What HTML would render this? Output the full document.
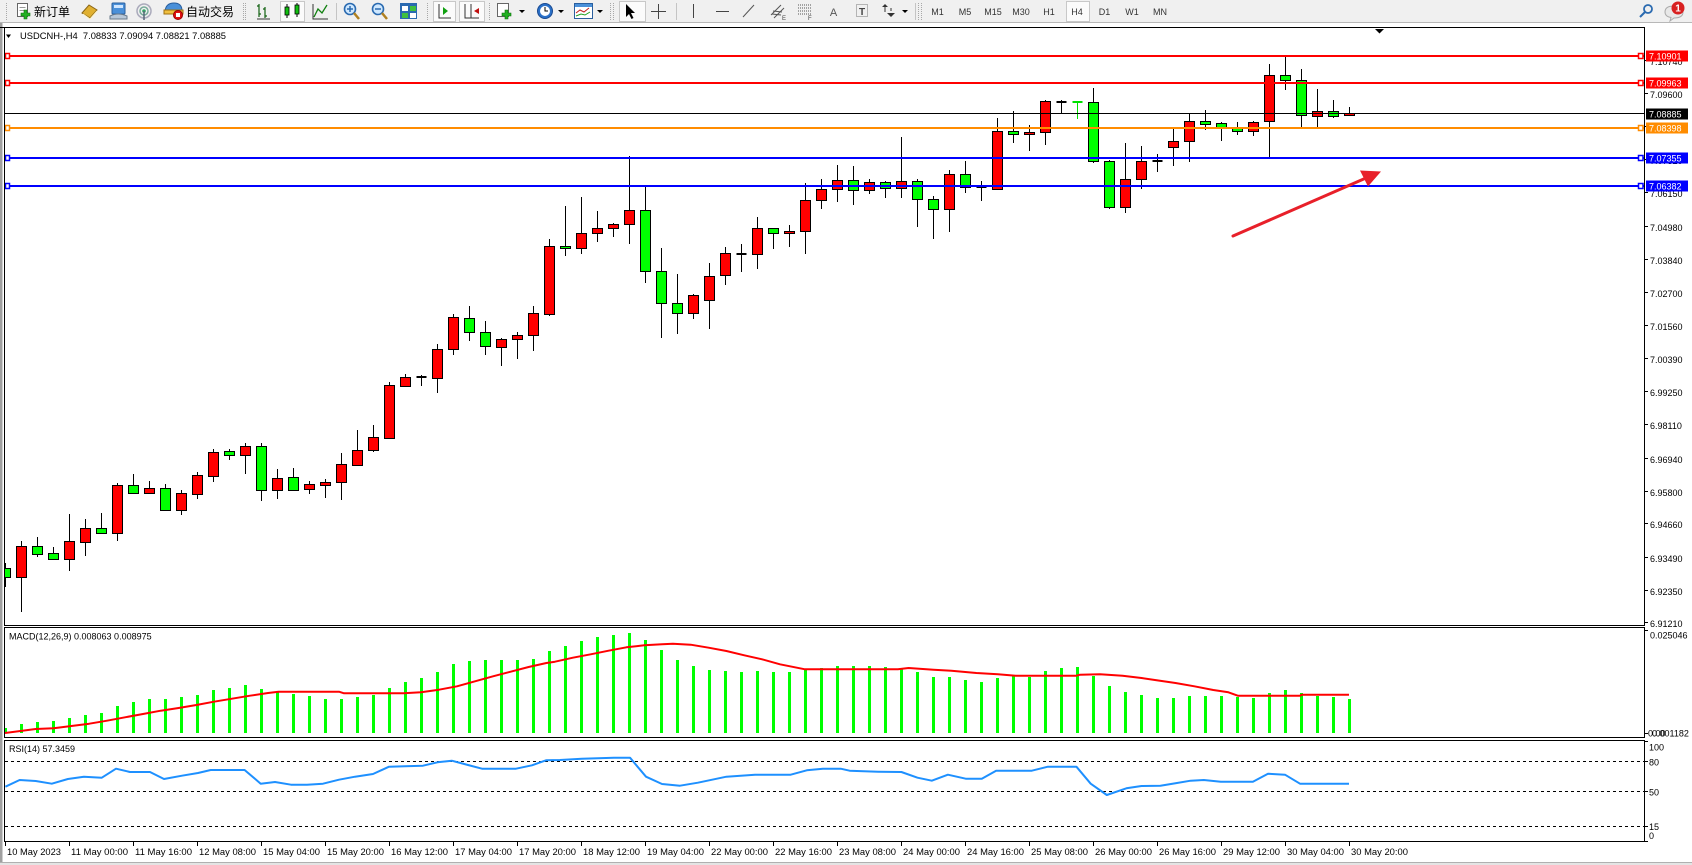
<!DOCTYPE html>
<html><head><meta charset="utf-8">
<style>
html,body{margin:0;padding:0;background:#fff;overflow:hidden;}
svg{display:block;}
text{font-family:"Liberation Sans","Noto Sans CJK SC",sans-serif;}
.ax{font-size:9px;fill:#000;}
.tf{font-size:9px;fill:#333;text-anchor:middle;}
.lb{font-size:9px;fill:#fff;}
</style></head>
<body>
<svg width="1692" height="865" viewBox="0 0 1692 865" xmlns="http://www.w3.org/2000/svg">
<defs>
<clipPath id="cm"><rect x="5" y="28" width="1639" height="597"/></clipPath>
<clipPath id="cd"><rect x="5" y="628" width="1639" height="109"/></clipPath>
<clipPath id="cr"><rect x="5" y="741" width="1639" height="100"/></clipPath>
</defs>

<!-- ===== TOOLBAR ===== -->
<rect x="0" y="0" width="1692" height="23" fill="#f0f0f0"/>
<line x1="0" y1="22.5" x2="1692" y2="22.5" stroke="#b8b8b8"/>
<rect x="0" y="23" width="1692" height="4" fill="#fff"/>
<g stroke="#a8a8a8" stroke-dasharray="1,1">
<line x1="6.5" y1="3" x2="6.5" y2="20"/>
<line x1="243.5" y1="3" x2="243.5" y2="20"/><line x1="245.5" y1="3" x2="245.5" y2="20"/>
<line x1="427.5" y1="3" x2="427.5" y2="20"/>
<line x1="489.5" y1="3" x2="489.5" y2="20"/>
<line x1="610.5" y1="3" x2="610.5" y2="20"/><line x1="613.5" y1="3" x2="613.5" y2="20"/>
<line x1="918.5" y1="3" x2="918.5" y2="20"/><line x1="921.5" y1="3" x2="921.5" y2="20"/>
</g>
<g stroke="#c4c4c4">
<line x1="336.5" y1="3" x2="336.5" y2="20"/>
<line x1="676.5" y1="3" x2="676.5" y2="20"/>
<line x1="915.5" y1="3" x2="915.5" y2="20"/>
</g>
<!-- new order -->
<rect x="17.5" y="3.5" width="10" height="13" fill="#fff" stroke="#666"/>
<line x1="19.5" y1="7.5" x2="25.5" y2="7.5" stroke="#999"/><line x1="19.5" y1="10.5" x2="25.5" y2="10.5" stroke="#999"/>
<path d="M24 10h3v3h3v3h-3v3h-3v-3h-3v-3h3z" fill="#22b022" stroke="#0a700a" stroke-width="0.6"/>
<text x="34" y="16" font-size="12" fill="#000">新订单</text>
<!-- book -->
<path d="M82 13 L89 5 L97 10 L90 18 Z" fill="#e0b030" stroke="#8a6515"/>
<path d="M83 14 L90 19 L97 11" fill="none" stroke="#fff3c0"/>
<!-- blue person -->
<rect x="112" y="3" width="13" height="11" rx="1" fill="#4a90d9" stroke="#2a5f9e"/>
<rect x="114" y="5" width="9" height="3" fill="#cfe6ff"/>
<path d="M110 16 Q118 12 127 16 L127 19 L110 19 Z" fill="#b8c8d8" stroke="#6a7a8a"/>
<!-- signals -->
<circle cx="144" cy="11" r="7" fill="none" stroke="#aab" stroke-width="1.5"/>
<circle cx="144" cy="11" r="4" fill="none" stroke="#7a9" stroke-width="1.5"/>
<circle cx="144" cy="11" r="1.8" fill="#3a6"/>
<line x1="144" y1="11" x2="144" y2="20" stroke="#567" stroke-width="1.5"/>
<!-- auto trading -->
<path d="M165 11 Q166 3 174 3 Q182 3 182 11 Z" fill="#4a90d9" stroke="#2a5f9e"/>
<rect x="164" y="10" width="19" height="4" fill="#f0c040" stroke="#a07010"/>
<circle cx="178" cy="15" r="4.5" fill="#e01010" stroke="#900"/>
<rect x="176" y="13" width="4" height="4" fill="#fff"/>
<text x="186" y="16" font-size="12" fill="#000">自动交易</text>
<!-- chart types -->
<g stroke="#106010" stroke-width="1.2" fill="none">
<path d="M259 4v13M257 6h2M259 14h2M265 7v11M263 9h2M265 16h2"/>
</g>
<path d="M257 19h13" stroke="#333"/>
<rect x="280.5" y="1.5" width="24" height="20" fill="#fbfbfb" stroke="#c8c8c8"/>
<line x1="287" y1="4" x2="287" y2="18" stroke="#000"/><rect x="285" y="7" width="4" height="8" fill="#10c010" stroke="#000" stroke-width="0.8"/>
<line x1="297" y1="3" x2="297" y2="17" stroke="#000"/><rect x="295" y="5" width="4" height="9" fill="#10c010" stroke="#000" stroke-width="0.8"/>
<path d="M314 17 L318 9 L322 13 L327 5" fill="none" stroke="#108010" stroke-width="1.3"/>
<path d="M313 4v15h15" fill="none" stroke="#333"/>
<!-- zoom -->
<circle cx="350" cy="9" r="5.5" fill="#cfe8ff" stroke="#2a6ab0" stroke-width="1.6"/>
<path d="M347 9h6M350 6v6" stroke="#2a6ab0" stroke-width="1.5"/>
<line x1="354" y1="13" x2="359" y2="19" stroke="#b08020" stroke-width="2.5"/>
<circle cx="378" cy="9" r="5.5" fill="#cfe8ff" stroke="#2a6ab0" stroke-width="1.6"/>
<path d="M375 9h6" stroke="#2a6ab0" stroke-width="1.5"/>
<line x1="382" y1="13" x2="387" y2="19" stroke="#b08020" stroke-width="2.5"/>
<!-- tile -->
<rect x="400" y="3" width="17" height="16" fill="#2a6ab0"/>
<rect x="402" y="6" width="6" height="5" fill="#fff"/><rect x="410" y="6" width="6" height="5" fill="#40c040"/>
<rect x="402" y="13" width="6" height="5" fill="#40c040"/><rect x="410" y="13" width="6" height="5" fill="#fff"/>
<!-- pressed: autoscroll & shift -->
<rect x="433.5" y="1.5" width="22" height="20" fill="#fbfbfb" stroke="#c8c8c8"/>
<path d="M439 4v14h12" fill="none" stroke="#333"/>
<path d="M443 7l5 4-5 4z" fill="#10a010"/>
<rect x="459.5" y="1.5" width="25" height="20" fill="#fbfbfb" stroke="#c8c8c8"/>
<path d="M465 4v14h14" fill="none" stroke="#333"/><line x1="471" y1="4" x2="471" y2="18" stroke="#333"/>
<path d="M479 8l-5 3 5 3z" fill="#c01010"/>
<!-- new chart -->
<rect x="497.5" y="3.5" width="11" height="13" fill="#fff" stroke="#666"/>
<path d="M505 10h3v3h3v3h-3v3h-3v-3h-3v-3h3z" fill="#22b022" stroke="#0a700a" stroke-width="0.6"/>
<path d="M519 10h6l-3 3z" fill="#000"/>
<circle cx="545" cy="11" r="7.5" fill="#2a70c8" stroke="#1a4a90"/>
<circle cx="545" cy="11" r="5" fill="#fff"/>
<path d="M545 7v4h3" stroke="#000" fill="none"/>
<path d="M558 10h6l-3 3z" fill="#000"/>
<rect x="574.5" y="3.5" width="18" height="15" fill="#fff" stroke="#2a5f9e"/>
<rect x="575" y="4" width="17" height="3" fill="#4a90d9"/>
<path d="M576 13l4-3 4 2 5-4" stroke="#c02020" fill="none"/><path d="M576 16l5-2 4 1 5-3" stroke="#20a020" fill="none"/>
<path d="M597 10h6l-3 3z" fill="#000"/>
<!-- cursor pressed -->
<rect x="619.5" y="1.5" width="26" height="20" fill="#fbfbfb" stroke="#c8c8c8"/>
<path d="M626 4 L626 17 L629 14 L631.5 19 L633.5 18 L631 13 L635 13 Z" fill="#000"/>
<path d="M658.5 4v15M651 11.5h15" stroke="#444"/>
<line x1="693.5" y1="4" x2="693.5" y2="18" stroke="#444"/>
<line x1="716" y1="11.5" x2="729" y2="11.5" stroke="#444"/>
<line x1="743" y1="17" x2="754" y2="5" stroke="#555"/>
<g stroke="#555" fill="none"><path d="M771 15l10-10M774 18l10-10M773 11l9 1M772 14l9 1"/></g>
<text x="782" y="20" font-size="6" fill="#444">E</text>
<g stroke="#555" stroke-dasharray="1,1"><path d="M798 5h13M798 8h13M798 11h13M798 14h13"/></g>
<text x="808" y="20" font-size="6" fill="#444">F</text>
<text x="833.5" y="16" font-size="11" fill="#555" text-anchor="middle">A</text>
<rect x="856.5" y="4.5" width="11" height="12" fill="none" stroke="#777" stroke-dasharray="1,1"/>
<text x="862" y="15" font-size="10" fill="#444" text-anchor="middle" font-weight="bold">T</text>
<path d="M882 7l3-3 3 3zM887 13l4 4 4-4z" fill="#333"/><path d="M885 7v5M891 11v-3" stroke="#333"/>
<path d="M902 10h6l-3 3z" fill="#000"/>
<!-- timeframes -->
<rect x="1066.5" y="1.5" width="23" height="20" fill="#fbfbfb" stroke="#c8c8c8"/>
<text class="tf" x="937.5" y="15">M1</text>
<text class="tf" x="965" y="15">M5</text>
<text class="tf" x="993" y="15">M15</text>
<text class="tf" x="1021" y="15">M30</text>
<text class="tf" x="1049" y="15">H1</text>
<text class="tf" x="1077" y="15">H4</text>
<text class="tf" x="1104.5" y="15">D1</text>
<text class="tf" x="1132" y="15">W1</text>
<text class="tf" x="1160" y="15">MN</text>
<!-- search & bubble -->
<circle cx="1648" cy="9" r="4" fill="none" stroke="#2a6ab0" stroke-width="1.8"/>
<line x1="1645" y1="12" x2="1640" y2="17" stroke="#2a6ab0" stroke-width="2"/>
<path d="M1665 12 q0 -6 9 -6 q9 0 9 6 q0 6 -9 6 l-4 3 l1 -3.5 q-6 -1 -6 -5.5z" fill="#e8e8e8" stroke="#aaa"/>
<circle cx="1678" cy="8" r="6.5" fill="#d82020"/>
<text x="1678" y="11.5" font-size="10" fill="#fff" text-anchor="middle" font-weight="bold">1</text>

<!-- ===== WINDOW FRAME ===== -->
<rect x="0" y="23" width="2.5" height="840" fill="#a0a0a0"/>
<rect x="0" y="862" width="1692" height="3" fill="#e4e4e4"/>
<line x1="0" y1="862.5" x2="1692" y2="862.5" stroke="#b0b0b0"/>
<line x1="0" y1="27.5" x2="1644.5" y2="27.5" stroke="#000"/>
<rect x="4.5" y="27.5" width="1640" height="598" fill="#fff" stroke="#000"/>
<rect x="4.5" y="627.5" width="1640" height="110" fill="#fff" stroke="#000"/>
<rect x="4.5" y="740.5" width="1640" height="101" fill="#fff" stroke="#000"/>

<!-- title -->
<path d="M6 34.5h5l-2.5 3.5z" fill="#000"/>
<text x="20" y="39" font-size="9.3" fill="#000" textLength="206" lengthAdjust="spacingAndGlyphs" xml:space="preserve">USDCNH-,H4  7.08833 7.09094 7.08821 7.08885</text>
<path d="M1375 29h9l-4.5 4.5z" fill="#000"/>

<!-- ===== CANDLES ===== -->
<g clip-path="url(#cm)">
<g stroke="#000" stroke-width="1">
<line x1="5.5" y1="563" x2="5.5" y2="587"/><line x1="21.5" y1="541" x2="21.5" y2="612"/><line x1="37.5" y1="537" x2="37.5" y2="557"/><line x1="53.5" y1="547" x2="53.5" y2="559"/><line x1="69.5" y1="514" x2="69.5" y2="571"/><line x1="85.5" y1="519" x2="85.5" y2="556"/><line x1="101.5" y1="513" x2="101.5" y2="534"/><line x1="117.5" y1="483" x2="117.5" y2="541"/><line x1="133.5" y1="474" x2="133.5" y2="494"/><line x1="149.5" y1="481" x2="149.5" y2="494"/><line x1="165.5" y1="484" x2="165.5" y2="511"/><line x1="181.5" y1="490" x2="181.5" y2="515"/><line x1="197.5" y1="472" x2="197.5" y2="499"/><line x1="213.5" y1="449" x2="213.5" y2="482"/><line x1="229.5" y1="449" x2="229.5" y2="460"/><line x1="245.5" y1="443" x2="245.5" y2="474"/><line x1="261.5" y1="443" x2="261.5" y2="501"/><line x1="277.5" y1="469" x2="277.5" y2="499"/><line x1="293.5" y1="468" x2="293.5" y2="491"/><line x1="309.5" y1="481" x2="309.5" y2="494"/><line x1="325.5" y1="479" x2="325.5" y2="498"/><line x1="341.5" y1="453" x2="341.5" y2="500"/><line x1="357.5" y1="430" x2="357.5" y2="466"/><line x1="373.5" y1="425" x2="373.5" y2="452"/><line x1="389.5" y1="382" x2="389.5" y2="439"/><line x1="405.5" y1="374" x2="405.5" y2="387"/><line x1="421.5" y1="375" x2="421.5" y2="386"/><line x1="437.5" y1="344" x2="437.5" y2="393"/><line x1="453.5" y1="314" x2="453.5" y2="355"/><line x1="469.5" y1="306" x2="469.5" y2="341"/><line x1="485.5" y1="321" x2="485.5" y2="355"/><line x1="501.5" y1="338" x2="501.5" y2="366"/><line x1="517.5" y1="332" x2="517.5" y2="359"/><line x1="533.5" y1="306" x2="533.5" y2="351"/><line x1="549.5" y1="239" x2="549.5" y2="316"/><line x1="565.5" y1="206" x2="565.5" y2="256"/><line x1="581.5" y1="197" x2="581.5" y2="254"/><line x1="597.5" y1="211" x2="597.5" y2="242"/><line x1="613.5" y1="223" x2="613.5" y2="237"/><line x1="629.5" y1="156" x2="629.5" y2="244"/><line x1="645.5" y1="187" x2="645.5" y2="283"/><line x1="661.5" y1="248" x2="661.5" y2="338"/><line x1="677.5" y1="274" x2="677.5" y2="334"/><line x1="693.5" y1="294" x2="693.5" y2="319"/><line x1="709.5" y1="263" x2="709.5" y2="329"/><line x1="725.5" y1="247" x2="725.5" y2="285"/><line x1="741.5" y1="244" x2="741.5" y2="272"/><line x1="757.5" y1="217" x2="757.5" y2="269"/><line x1="773.5" y1="228" x2="773.5" y2="249"/><line x1="789.5" y1="225" x2="789.5" y2="247"/><line x1="805.5" y1="183" x2="805.5" y2="254"/><line x1="821.5" y1="179" x2="821.5" y2="209"/><line x1="837.5" y1="165" x2="837.5" y2="202"/><line x1="853.5" y1="166" x2="853.5" y2="205"/><line x1="869.5" y1="179" x2="869.5" y2="194"/><line x1="885.5" y1="181" x2="885.5" y2="198"/><line x1="901.5" y1="137" x2="901.5" y2="198"/><line x1="917.5" y1="179" x2="917.5" y2="227"/><line x1="933.5" y1="196" x2="933.5" y2="239"/><line x1="949.5" y1="170" x2="949.5" y2="232"/><line x1="965.5" y1="161" x2="965.5" y2="193"/><line x1="981.5" y1="181" x2="981.5" y2="201"/><line x1="997.5" y1="118" x2="997.5" y2="189"/><line x1="1013.5" y1="111" x2="1013.5" y2="143"/><line x1="1029.5" y1="125" x2="1029.5" y2="151"/><line x1="1045.5" y1="100" x2="1045.5" y2="145"/><line x1="1061.5" y1="100" x2="1061.5" y2="114"/><line x1="1093.5" y1="88" x2="1093.5" y2="163"/><line x1="1109.5" y1="160" x2="1109.5" y2="209"/><line x1="1125.5" y1="143" x2="1125.5" y2="213"/><line x1="1141.5" y1="146" x2="1141.5" y2="189"/><line x1="1157.5" y1="154" x2="1157.5" y2="172"/><line x1="1173.5" y1="128" x2="1173.5" y2="166"/><line x1="1189.5" y1="114" x2="1189.5" y2="162"/><line x1="1205.5" y1="110" x2="1205.5" y2="130"/><line x1="1221.5" y1="122" x2="1221.5" y2="141"/><line x1="1237.5" y1="122" x2="1237.5" y2="135"/><line x1="1253.5" y1="121" x2="1253.5" y2="136"/><line x1="1269.5" y1="64" x2="1269.5" y2="157"/><line x1="1285.5" y1="57" x2="1285.5" y2="90"/><line x1="1301.5" y1="69" x2="1301.5" y2="127"/><line x1="1317.5" y1="89" x2="1317.5" y2="127"/><line x1="1333.5" y1="100" x2="1333.5" y2="118"/><line x1="1349.5" y1="107" x2="1349.5" y2="115"/>
</g>
<line x1="1077.5" y1="102" x2="1077.5" y2="119" stroke="#00e000"/>
<g stroke="#000" stroke-width="1" fill="#00ff00">
<rect x="0.5" y="568.5" width="10" height="9"/><rect x="32.5" y="546.5" width="10" height="8"/><rect x="48.5" y="553.5" width="10" height="6"/><rect x="96.5" y="528.5" width="10" height="5"/><rect x="128.5" y="485.5" width="10" height="8"/><rect x="160.5" y="488.5" width="10" height="22"/><rect x="224.5" y="451.5" width="10" height="4"/><rect x="256.5" y="446.5" width="10" height="44"/><rect x="288.5" y="477.5" width="10" height="13"/><rect x="464.5" y="318.5" width="10" height="14"/><rect x="480.5" y="332.5" width="10" height="14"/><rect x="560.5" y="246.5" width="10" height="2"/><rect x="640.5" y="210.5" width="10" height="61"/><rect x="656.5" y="271.5" width="10" height="32"/><rect x="672.5" y="303.5" width="10" height="10"/><rect x="768.5" y="228.5" width="10" height="5"/><rect x="848.5" y="180.5" width="10" height="10"/><rect x="880.5" y="182.5" width="10" height="6"/><rect x="912.5" y="181.5" width="10" height="18"/><rect x="928.5" y="199.5" width="10" height="10"/><rect x="960.5" y="174.5" width="10" height="13"/><rect x="1008.5" y="131.5" width="10" height="3"/><rect x="1088.5" y="102.5" width="10" height="59"/><rect x="1104.5" y="161.5" width="10" height="46"/><rect x="1200.5" y="121.5" width="10" height="3"/><rect x="1216.5" y="123.5" width="10" height="4"/><rect x="1232.5" y="127.5" width="10" height="4"/><rect x="1280.5" y="75.5" width="10" height="5"/><rect x="1296.5" y="80.5" width="10" height="35"/><rect x="1328.5" y="111.5" width="10" height="5"/>
</g>
<g stroke="#000" stroke-width="1" fill="#ff0000">
<rect x="16.5" y="546.5" width="10" height="31"/><rect x="64.5" y="541.5" width="10" height="18"/><rect x="80.5" y="528.5" width="10" height="14"/><rect x="112.5" y="485.5" width="10" height="48"/><rect x="144.5" y="488.5" width="10" height="5"/><rect x="176.5" y="493.5" width="10" height="17"/><rect x="192.5" y="475.5" width="10" height="19"/><rect x="208.5" y="452.5" width="10" height="24"/><rect x="240.5" y="446.5" width="10" height="9"/><rect x="272.5" y="478.5" width="10" height="12"/><rect x="304.5" y="484.5" width="10" height="5"/><rect x="320.5" y="482.5" width="10" height="3"/><rect x="336.5" y="464.5" width="10" height="18"/><rect x="352.5" y="450.5" width="10" height="15"/><rect x="368.5" y="437.5" width="10" height="13"/><rect x="384.5" y="385.5" width="10" height="53"/><rect x="400.5" y="377.5" width="10" height="9"/><rect x="432.5" y="349.5" width="10" height="29"/><rect x="448.5" y="317.5" width="10" height="32"/><rect x="496.5" y="339.5" width="10" height="8"/><rect x="512.5" y="335.5" width="10" height="4"/><rect x="528.5" y="313.5" width="10" height="22"/><rect x="544.5" y="246.5" width="10" height="68"/><rect x="576.5" y="233.5" width="10" height="15"/><rect x="592.5" y="228.5" width="10" height="5"/><rect x="608.5" y="224.5" width="10" height="4"/><rect x="624.5" y="210.5" width="10" height="14"/><rect x="688.5" y="295.5" width="10" height="18"/><rect x="704.5" y="276.5" width="10" height="24"/><rect x="720.5" y="253.5" width="10" height="22"/><rect x="752.5" y="228.5" width="10" height="26"/><rect x="784.5" y="231.5" width="10" height="2"/><rect x="800.5" y="200.5" width="10" height="31"/><rect x="816.5" y="189.5" width="10" height="11"/><rect x="832.5" y="180.5" width="10" height="9"/><rect x="864.5" y="182.5" width="10" height="8"/><rect x="896.5" y="181.5" width="10" height="7"/><rect x="944.5" y="174.5" width="10" height="35"/><rect x="992.5" y="131.5" width="10" height="58"/><rect x="1024.5" y="132.5" width="10" height="2"/><rect x="1040.5" y="101.5" width="10" height="31"/><rect x="1120.5" y="179.5" width="10" height="28"/><rect x="1136.5" y="161.5" width="10" height="18"/><rect x="1168.5" y="141.5" width="10" height="6"/><rect x="1184.5" y="121.5" width="10" height="20"/><rect x="1248.5" y="122.5" width="10" height="9"/><rect x="1264.5" y="75.5" width="10" height="46"/><rect x="1312.5" y="111.5" width="10" height="5"/><rect x="1344.5" y="113.5" width="10" height="2"/>
</g>
<g stroke="#000" stroke-width="2">
<line x1="416.5" y1="377" x2="426.5" y2="377"/><line x1="736.5" y1="254" x2="746.5" y2="254"/><line x1="976.5" y1="187" x2="986.5" y2="187"/><line x1="1056.5" y1="102" x2="1066.5" y2="102"/><line x1="1152.5" y1="161" x2="1162.5" y2="161"/>
</g>
<line x1="1072.5" y1="102" x2="1082.5" y2="102" stroke="#00e000" stroke-width="2"/>

<!-- horizontal objects -->
<line x1="5" y1="56" x2="1644" y2="56" stroke="#ff0000" stroke-width="2"/>
<line x1="5" y1="83" x2="1644" y2="83" stroke="#ff0000" stroke-width="2"/>
<line x1="5" y1="113.5" x2="1644" y2="113.5" stroke="#000" stroke-width="1"/>
<line x1="5" y1="128" x2="1644" y2="128" stroke="#ff8c00" stroke-width="2"/>
<line x1="5" y1="158" x2="1644" y2="158" stroke="#0000ff" stroke-width="2"/>
<line x1="5" y1="186" x2="1644" y2="186" stroke="#0000ff" stroke-width="2"/>
<g fill="#fff" stroke-width="1.5">
<rect x="1638.5" y="53.5" width="4.5" height="5" stroke="#ff0000"/><rect x="5.5" y="53.5" width="4" height="5" stroke="#ff0000"/>
<rect x="1638.5" y="80.5" width="4.5" height="5" stroke="#ff0000"/><rect x="5.5" y="80.5" width="4" height="5" stroke="#ff0000"/>
<rect x="1638.5" y="125.5" width="4.5" height="5" stroke="#ff8c00"/><rect x="5.5" y="125.5" width="4" height="5" stroke="#ff8c00"/>
<rect x="1638.5" y="155.5" width="4.5" height="5" stroke="#0000ff"/><rect x="5.5" y="155.5" width="4" height="5" stroke="#0000ff"/>
<rect x="1638.5" y="183.5" width="4.5" height="5" stroke="#0000ff"/><rect x="5.5" y="183.5" width="4" height="5" stroke="#0000ff"/>
</g>
<!-- red arrow -->
<line x1="1233" y1="236" x2="1366" y2="178" stroke="#e8202a" stroke-width="3" stroke-linecap="round"/>
<polygon points="1360,170.5 1381,171.5 1368,186.5" fill="#e8202a"/>
</g>

<!-- ===== PRICE AXIS ===== -->
<g stroke="#000">
<path d="M1644 60.5h4M1644 93.5h4M1644 126.5h4M1644 159.5h4M1644 192.5h4M1644 226.5h4M1644 259.5h4M1644 292.5h4M1644 325.5h4M1644 358.5h4M1644 391.5h4M1644 424.5h4M1644 458.5h4M1644 491.5h4M1644 523.5h4M1644 557.5h4M1644 590.5h4M1644 622.5h4"/>
<path d="M1644 630.5h4M1644 733.5h4M1644 741.5h4M1644 761.5h4M1644 791.5h4M1644 826.5h4M1644 841.5h4"/>
</g>
<g class="ax">
<text x="1650" y="65">7.10740</text>
<text x="1650" y="98">7.09600</text>
<text x="1650" y="131">7.08460</text>
<text x="1650" y="164">7.07320</text>
<text x="1650" y="197">7.06150</text>
<text x="1650" y="231">7.04980</text>
<text x="1650" y="264">7.03840</text>
<text x="1650" y="297">7.02700</text>
<text x="1650" y="330">7.01560</text>
<text x="1650" y="363">7.00390</text>
<text x="1650" y="396">6.99250</text>
<text x="1650" y="429">6.98110</text>
<text x="1650" y="463">6.96940</text>
<text x="1650" y="496">6.95800</text>
<text x="1650" y="528">6.94660</text>
<text x="1650" y="562">6.93490</text>
<text x="1650" y="595">6.92350</text>
<text x="1650" y="627">6.91210</text>
<text x="1650" y="638.5">0.025046</text>
<text x="1648" y="736.5">0.00</text>
<text x="1652" y="736.5">0.001182</text>
<text x="1649" y="750.5">100</text>
<text x="1649" y="765.5">80</text>
<text x="1649" y="795.5">50</text>
<text x="1649" y="830">15</text>
<text x="1649" y="839">0</text>
</g>
<!-- colored price labels -->
<rect x="1646" y="50.5" width="42" height="11" fill="#ff0000"/><text class="lb" x="1649" y="59.5">7.10901</text>
<rect x="1646" y="77.5" width="42" height="11" fill="#ff0000"/><text class="lb" x="1649" y="86.5">7.09963</text>
<rect x="1646" y="108.5" width="42" height="11" fill="#000"/><text class="lb" x="1649" y="117.5">7.08885</text>
<rect x="1646" y="122.5" width="42" height="11" fill="#ff8c00"/><text class="lb" x="1649" y="131.5">7.08398</text>
<rect x="1646" y="152.5" width="42" height="11" fill="#0000ff"/><text class="lb" x="1649" y="161.5">7.07355</text>
<rect x="1646" y="180.5" width="42" height="11" fill="#0000ff"/><text class="lb" x="1649" y="189.5">7.06382</text>

<!-- ===== MACD ===== -->
<g clip-path="url(#cd)" fill="#00ff00">
<rect x="4" y="728" width="3" height="5"/><rect x="20" y="724" width="3" height="9"/><rect x="36" y="722" width="3" height="11"/><rect x="52" y="721" width="3" height="12"/><rect x="68" y="718" width="3" height="15"/><rect x="84" y="715" width="3" height="18"/><rect x="100" y="713" width="3" height="20"/><rect x="116" y="706" width="3" height="27"/><rect x="132" y="702" width="3" height="31"/><rect x="148" y="699" width="3" height="34"/><rect x="164" y="699" width="3" height="34"/><rect x="180" y="697" width="3" height="36"/><rect x="196" y="695" width="3" height="38"/><rect x="212" y="690" width="3" height="43"/><rect x="228" y="688" width="3" height="45"/><rect x="244" y="685" width="3" height="48"/><rect x="260" y="689" width="3" height="44"/><rect x="276" y="691" width="3" height="42"/><rect x="292" y="694" width="3" height="39"/><rect x="308" y="696" width="3" height="37"/><rect x="324" y="699" width="3" height="34"/><rect x="340" y="699" width="3" height="34"/><rect x="356" y="697" width="3" height="36"/><rect x="372" y="695" width="3" height="38"/><rect x="388" y="688" width="3" height="45"/><rect x="404" y="682" width="3" height="51"/><rect x="420" y="678" width="3" height="55"/><rect x="436" y="672" width="3" height="61"/><rect x="452" y="664" width="3" height="69"/><rect x="468" y="661" width="3" height="72"/><rect x="484" y="660" width="3" height="73"/><rect x="500" y="660" width="3" height="73"/><rect x="516" y="660" width="3" height="73"/><rect x="532" y="659" width="3" height="74"/><rect x="548" y="651" width="3" height="82"/><rect x="564" y="646" width="3" height="87"/><rect x="580" y="641" width="3" height="92"/><rect x="596" y="637" width="3" height="96"/><rect x="612" y="635" width="3" height="98"/><rect x="628" y="633" width="3" height="100"/><rect x="644" y="640" width="3" height="93"/><rect x="660" y="650" width="3" height="83"/><rect x="676" y="660" width="3" height="73"/><rect x="692" y="666" width="3" height="67"/><rect x="708" y="670" width="3" height="63"/><rect x="724" y="671" width="3" height="62"/><rect x="740" y="672" width="3" height="61"/><rect x="756" y="671" width="3" height="62"/><rect x="772" y="672" width="3" height="61"/><rect x="788" y="672" width="3" height="61"/><rect x="804" y="670" width="3" height="63"/><rect x="820" y="668" width="3" height="65"/><rect x="836" y="666" width="3" height="67"/><rect x="852" y="666" width="3" height="67"/><rect x="868" y="666" width="3" height="67"/><rect x="884" y="667" width="3" height="66"/><rect x="900" y="669" width="3" height="64"/><rect x="916" y="672" width="3" height="61"/><rect x="932" y="677" width="3" height="56"/><rect x="948" y="677" width="3" height="56"/><rect x="964" y="680" width="3" height="53"/><rect x="980" y="682" width="3" height="51"/><rect x="996" y="678" width="3" height="55"/><rect x="1012" y="676" width="3" height="57"/><rect x="1028" y="677" width="3" height="56"/><rect x="1044" y="671" width="3" height="62"/><rect x="1060" y="668" width="3" height="65"/><rect x="1076" y="667" width="3" height="66"/><rect x="1092" y="676" width="3" height="57"/><rect x="1108" y="686" width="3" height="47"/><rect x="1124" y="692" width="3" height="41"/><rect x="1140" y="695" width="3" height="38"/><rect x="1156" y="698" width="3" height="35"/><rect x="1172" y="698" width="3" height="35"/><rect x="1188" y="696" width="3" height="37"/><rect x="1204" y="696" width="3" height="37"/><rect x="1220" y="696" width="3" height="37"/><rect x="1236" y="697" width="3" height="36"/><rect x="1252" y="698" width="3" height="35"/><rect x="1268" y="693" width="3" height="40"/><rect x="1284" y="690" width="3" height="43"/><rect x="1300" y="693" width="3" height="40"/><rect x="1316" y="696" width="3" height="37"/><rect x="1332" y="697" width="3" height="36"/><rect x="1348" y="699" width="3" height="34"/>
<polyline fill="none" stroke="#ff0000" stroke-width="2" stroke-linejoin="round" points="5,733 35.7,729 53.6,728.3 71.4,726 89.3,723.7 107,720.7 125,717.3 143,714 160.7,710.7 178.6,708 196.4,705 214,701.7 232,698.7 250,695.7 268,693 278.6,691.7 339,691.7 344,693.3 403.6,693.3 421,692.3 439,689.7 457,686.3 475,681.3 493,676.3 510.7,671.7 528.6,667 546.4,663 555,661.7 572.9,657.7 590.7,654.3 608.6,650.7 626.4,647.3 644.3,645.3 662.1,644.3 672.9,643.7 690.7,644.7 708.6,647.7 726.4,651 744.3,655.3 762.1,659.3 780,664.3 805,669.3 897.9,669.3 908.6,668 933.6,669.7 951.4,670.7 976.4,673 997.9,674.3 1015.7,675.7 1076.4,675.7 1080,674.7 1100,674.3 1122.6,675.7 1141.5,678 1156.6,680.3 1175.5,683 1194.4,686.3 1213.3,690 1228.4,692.3 1237.8,695.7 1300,695.7 1302,694.7 1349,694.7"/>
</g>
<text x="9" y="639.5" font-size="9" fill="#000">MACD(12,26,9) 0.008063 0.008975</text>

<!-- ===== RSI ===== -->
<g clip-path="url(#cr)">
<g stroke="#000" stroke-dasharray="3,3">
<line x1="5" y1="761.5" x2="1644" y2="761.5"/>
<line x1="5" y1="791.5" x2="1644" y2="791.5"/>
<line x1="5" y1="826.5" x2="1644" y2="826.5"/>
</g>
<polyline fill="none" stroke="#1e90ff" stroke-width="2" stroke-linejoin="round" points="5.4,786.7 19.6,780 35.7,781 51.8,783.7 67.9,779 83.9,776.7 101.8,777.7 116,768.7 130,772 150,772 164,779 182,775.7 198,773 210.7,770 244.6,770 260.7,783.7 275,782 291,784.7 307,784.7 323,783.7 339,779.7 355,776.7 373,774 389,766.7 405,766.3 423,765.7 437.5,762.3 451.8,760.7 468,765 482,768.7 498,768.7 516,768.7 532,765.3 546,760.3 560,760 581.8,758.7 613.9,757.7 630,757.7 646,776.7 662,784 680,785.7 697.9,782.7 726.4,776.7 755,774.7 790.7,774.7 806.8,770.3 822.9,768.7 840.7,768.7 849.6,770.7 878.2,771.7 901.4,772 917.5,777.7 931.8,780.7 947.9,774.7 965.7,778.7 981.8,778.7 996.1,770.7 1031.8,770.7 1047.9,766.7 1076.4,766.7 1090.7,783.7 1106.8,795 1126.4,788.3 1141.5,786 1160.4,785.7 1175.5,783.3 1190.6,780.7 1203.8,780 1220.8,781.7 1252.9,781.7 1268,773.7 1285,774.7 1300,783.7 1349,783.7"/>
</g>
<text x="9" y="752" font-size="9" fill="#000">RSI(14) 57.3459</text>

<!-- ===== TIME AXIS ===== -->
<g stroke="#000">
<path d="M5.5 842v4M69.5 842v4M133.5 842v4M197.5 842v4M261.5 842v4M325.5 842v4M389.5 842v4M453.5 842v4M517.5 842v4M581.5 842v4M645.5 842v4M709.5 842v4M773.5 842v4M837.5 842v4M901.5 842v4M965.5 842v4M1029.5 842v4M1093.5 842v4M1157.5 842v4M1221.5 842v4M1285.5 842v4M1349.5 842v4"/>
</g>
<g font-size="9" fill="#000">
<text x="7" y="855" textLength="54" lengthAdjust="spacingAndGlyphs">10 May 2023</text>
<text x="71" y="855" textLength="57" lengthAdjust="spacingAndGlyphs">11 May 00:00</text>
<text x="135" y="855" textLength="57" lengthAdjust="spacingAndGlyphs">11 May 16:00</text>
<text x="199" y="855" textLength="57" lengthAdjust="spacingAndGlyphs">12 May 08:00</text>
<text x="263" y="855" textLength="57" lengthAdjust="spacingAndGlyphs">15 May 04:00</text>
<text x="327" y="855" textLength="57" lengthAdjust="spacingAndGlyphs">15 May 20:00</text>
<text x="391" y="855" textLength="57" lengthAdjust="spacingAndGlyphs">16 May 12:00</text>
<text x="455" y="855" textLength="57" lengthAdjust="spacingAndGlyphs">17 May 04:00</text>
<text x="519" y="855" textLength="57" lengthAdjust="spacingAndGlyphs">17 May 20:00</text>
<text x="583" y="855" textLength="57" lengthAdjust="spacingAndGlyphs">18 May 12:00</text>
<text x="647" y="855" textLength="57" lengthAdjust="spacingAndGlyphs">19 May 04:00</text>
<text x="711" y="855" textLength="57" lengthAdjust="spacingAndGlyphs">22 May 00:00</text>
<text x="775" y="855" textLength="57" lengthAdjust="spacingAndGlyphs">22 May 16:00</text>
<text x="839" y="855" textLength="57" lengthAdjust="spacingAndGlyphs">23 May 08:00</text>
<text x="903" y="855" textLength="57" lengthAdjust="spacingAndGlyphs">24 May 00:00</text>
<text x="967" y="855" textLength="57" lengthAdjust="spacingAndGlyphs">24 May 16:00</text>
<text x="1031" y="855" textLength="57" lengthAdjust="spacingAndGlyphs">25 May 08:00</text>
<text x="1095" y="855" textLength="57" lengthAdjust="spacingAndGlyphs">26 May 00:00</text>
<text x="1159" y="855" textLength="57" lengthAdjust="spacingAndGlyphs">26 May 16:00</text>
<text x="1223" y="855" textLength="57" lengthAdjust="spacingAndGlyphs">29 May 12:00</text>
<text x="1287" y="855" textLength="57" lengthAdjust="spacingAndGlyphs">30 May 04:00</text>
<text x="1351" y="855" textLength="57" lengthAdjust="spacingAndGlyphs">30 May 20:00</text>
</g>
</svg>
</body></html>
